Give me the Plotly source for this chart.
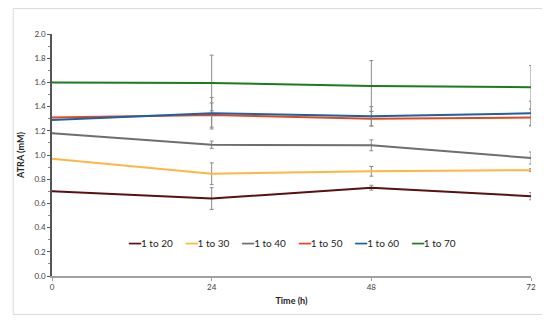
import plotly.graph_objects as go

time_h = [0, 24, 48, 72]
series_names = ["1 to 20", "1 to 30", "1 to 40", "1 to 50", "1 to 60", "1 to 70"]
v20 = [0.70, 0.64, 0.73, 0.66]
v30 = [0.97, 0.845, 0.865, 0.875]
v40 = [1.18, 1.085, 1.08, 0.975]
v50 = [1.31, 1.33, 1.30, 1.31]
v60 = [1.29, 1.345, 1.32, 1.345]
v70 = [1.60, 1.595, 1.57, 1.56]
e20 = [0, 0.09, 0.02, 0.03]
e30 = [0, 0.09, 0.04, 0.012]
e40 = [0, 0.03, 0.045, 0.05]
e50 = [0, 0.10, 0.06, 0.07]
e60 = [0, 0.13, 0.08, 0.10]
e70 = [0, 0.23, 0.21, 0.18]
colors = ["#5A1010", "#FFB545", "#6E6E6E", "#E2491A", "#1F5FA8", "#1E7A1E"]

values = [v20, v30, v40, v50, v60, v70]
errors = [e20, e30, e40, e50, e60, e70]

fig = go.Figure()
for name, v, e, c in zip(series_names, values, errors, colors):
    fig.add_trace(go.Scatter(
        x=time_h, y=v, name=name, mode="lines",
        line=dict(color=c, width=2),
        error_y=dict(type="data", array=e, visible=True, color="#8C8C8C",
                     thickness=1, width=2),
        showlegend=False,
    ))

# compact Excel-style legend
legend_text = "&nbsp;&nbsp;&nbsp;&nbsp;&nbsp;".join(
    f"<span style='color:{c}'>━━</span>{n}" for n, c in zip(series_names, colors)
)
fig.add_annotation(xref="paper", yref="paper", x=0.5, y=0.135,
                   xanchor="center", yanchor="middle", showarrow=False,
                   text=legend_text, font=dict(size=10, color="#222"))

fig.add_shape(type="rect", xref="paper", yref="paper",
              x0=-0.081, x1=1.025, y0=-0.159, y1=1.105,
              line=dict(color="#D9D9D9", width=1), layer="below")

fig.update_layout(
    width=542, height=315,
    margin=dict(l=40, r=19, t=26, b=47),
    paper_bgcolor="white", plot_bgcolor="white",
    font=dict(family="Lato, Open Sans, sans-serif", size=8, color="#404040"),
    xaxis=dict(range=[0, 72], tickvals=[0, 24, 48, 72], showgrid=False,
               showline=True, linecolor="#A0A0A0", linewidth=1.5,
               ticks="outside", ticklen=3, tickcolor="#A0A0A0",
               zeroline=False,
               title=dict(text="<b>Time (h)</b>", font=dict(size=9, color="#222"), standoff=6)),
    yaxis=dict(range=[0, 2.0], dtick=0.2, tickformat=".1f", showgrid=False,
               showline=True, linecolor="#555", linewidth=1.5,
               ticks="outside", ticklen=3, tickcolor="#555",
               minor=dict(dtick=0.1, ticks="outside", ticklen=2, tickcolor="#888"),
               zeroline=False,
               title=dict(text="<b>ATRA (mM)</b>", font=dict(size=9, color="#222"), standoff=8)),
)

fig.write_html("out.html")
